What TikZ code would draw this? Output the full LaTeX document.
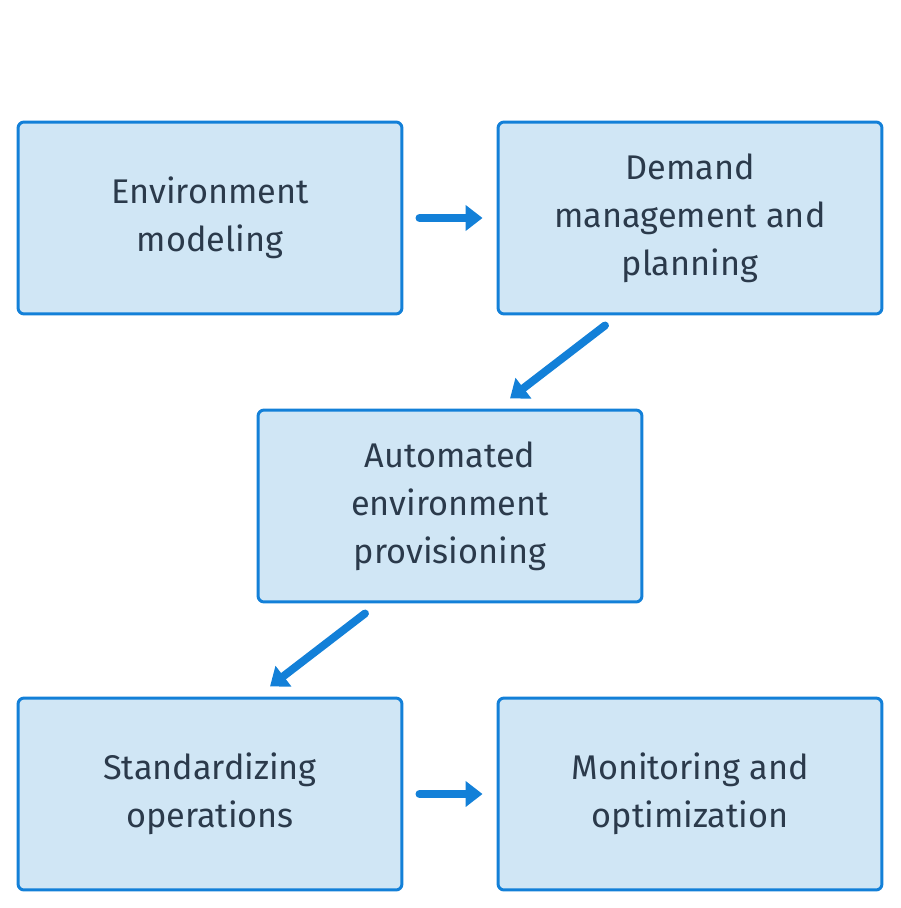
\documentclass[tikz,border=0pt]{standalone}
\usepackage{fontspec}
\setmainfont{Fira Sans}
\usetikzlibrary{arrows.meta}
\definecolor{boxfill}{HTML}{D0E6F5}
\definecolor{boxline}{HTML}{1380D8}
\definecolor{boxtext}{HTML}{2B3A4B}
\begin{document}
\begin{tikzpicture}[x=0.02cm,y=-0.02cm,
  stage/.style={draw=boxline, fill=boxfill, line width=1.7pt, rounded corners=0.12cm,
    minimum width=7.68cm, minimum height=3.84cm, align=center, text=boxtext,
    font=\fontsize{19.5}{27.3}\selectfont},
  flow/.style={draw=boxline, line width=4.5pt, line cap=round,
    -{Triangle[length=0.34cm,width=0.5cm]}}]
\useasboundingbox (0,0) rectangle (900,908);
\node[stage] (model) at (210,218) {Environment\\modeling};
\node[stage] (demand) at (690,218) {Demand\\management and\\planning};
\node[stage] (prov) at (450,506) {Automated\\environment\\provisioning};
\node[stage] (std) at (210,794) {Standardizing\\operations};
\node[stage] (mon) at (690,794) {Monitoring and\\optimization};
\draw[flow, shorten <=0.32cm, shorten >=0.28cm] (model.east) -- (demand.west);
\draw[flow] ([xshift=-1.7cm,yshift=-0.2cm]demand.south) -- ([xshift=1.2cm,yshift=0.2cm]prov.north);
\draw[flow] ([xshift=-1.7cm,yshift=-0.2cm]prov.south) -- ([xshift=1.2cm,yshift=0.2cm]std.north);
\draw[flow, shorten <=0.32cm, shorten >=0.28cm] (std.east) -- (mon.west);
\end{tikzpicture}
\end{document}
